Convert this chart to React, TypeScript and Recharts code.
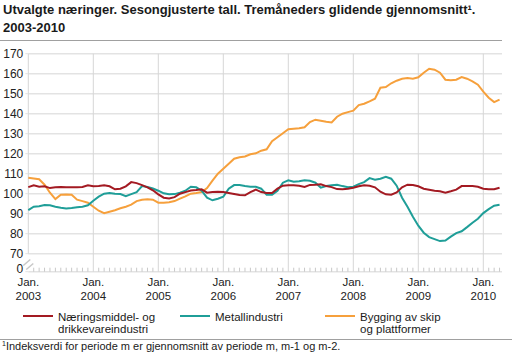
import React from "react";
import {
  LineChart,
  Line,
  XAxis,
  YAxis,
  CartesianGrid,
  ReferenceLine,
  ReferenceDot,
} from "recharts";

// month index 0 = Jan 2003, 87 = Apr 2010
const yearLabels = ["2003", "2004", "2005", "2006", "2007", "2008", "2009", "2010"];

const naering = [
  103.3, 104.2, 103.5, 103.7, 102.8, 103.2, 103.3, 103.2, 103.2, 103.2, 103.4, 104.2,
  103.7, 103.8, 104.2, 103.7, 102.2, 102.5, 103.7, 105.8, 105.3, 104.3, 103.2, 101.7,
  99.7, 98, 97.6, 98.3, 100, 100.8, 101.6, 101.8, 102.2, 100.5, 100.8, 101,
  100.8, 100.3, 99.8, 99.3, 99.2, 100.8, 102, 100.8, 100.3, 100.3, 102.5, 104,
  104.2, 104.2, 104, 103.4, 104.4, 104.5, 104.7, 103.8, 103.3, 102.3, 102.2, 102.5,
  103, 103.7, 104.2, 104, 103.2, 101, 99.7, 99.5, 100.6, 103.2, 104.5, 104.3,
  103.7, 102.5, 102, 101.5, 101.2, 100.5, 101.2, 102, 103.8, 103.8, 103.8, 103.5,
  102.5, 102.2, 102.2, 103,
];

const metall = [
  91.8, 93.5, 93.7, 94.3, 94.2, 93.5, 93, 92.6, 92.8, 93.2, 93.5, 94.2,
  96.5, 98.5, 100, 100.3, 100, 99.8, 98.8, 99.8, 100.8, 103.8, 103.3, 102.6,
  101.5, 100.2, 99.7, 99.8, 100.5, 101.5, 103.5, 103.2, 101.5, 98, 96.7, 97.5,
  98.5, 102.5, 104.3, 104.3, 103.8, 103.5, 103.5, 102.5, 99.5, 99.5, 101.5, 105.5,
  106.7, 106, 106.2, 106.7, 106.5, 105.5, 103, 103.8, 104.2, 104.5, 103.8, 103.2,
  103.5, 104.8, 105.8, 107.8, 107, 107.5, 108.5, 107.5, 104, 98, 93.5, 88.5,
  84, 80.5, 78.3, 77.3, 76.3, 76.6, 78.5, 80.3, 81.2, 83.3, 85.5, 87.5,
  90.3, 92.3, 94, 94.5,
];

const skip = [
  108, 107.6, 107.2, 104.5, 100.5, 97.3, 99.5, 99.6, 99.5, 97, 96.3, 95.5,
  93.5, 91.5, 90.3, 91, 91.7, 92.7, 93.5, 94.5, 96.3, 97, 97.2, 97,
  95.5, 95.5, 95.7, 96.3, 97.5, 98.7, 100, 100.3, 100.8, 102.8, 106.5, 110,
  112.5, 115, 117.5, 118.2, 118.6, 119.7, 120.2, 121.5, 122.2, 126.2, 128.2, 130.2,
  132.2, 132.5, 132.7, 133.2, 135.8, 137, 136.5, 136, 135.6, 138.5, 140, 140.8,
  141.5, 144.3, 145, 146.2, 147.5, 153, 153.3, 155.2, 156.5, 157.5, 157.8, 157.5,
  158.2, 160.5, 162.5, 162, 160.5, 157, 156.7, 157, 158.3, 157.5, 156.2, 154.5,
  151, 148, 145.8, 147,
];

// 61 stands in for the "0" below the axis break
const yTicks = [61, 70, 80, 90, 100, 110, 120, 130, 140, 150, 160, 170];

const data = naering.map((v, i) => ({
  m: i,
  naering: v,
  metall: metall[i],
  skip: skip[i],
}));
const monthTicks = data.map((d) => d.m);
const janTicks = yearLabels.map((_, k) => k * 12);

const RED = "#a31a22";
const TEAL = "#1f9e98";
const ORANGE = "#f6a03c";
const FONT = "Arial, 'Liberation Sans', sans-serif";

function MonthTick(props: any) {
  const { x, y, payload } = props;
  const i = payload.value;
  if (i % 12 !== 0) {
    return <line x1={x} x2={x} y1={y} y2={y - 4} stroke="#c8c8c8" strokeWidth={1} />;
  }
  return (
    <text x={x} y={y + 14.5} textAnchor="middle" fontSize={11.5} fill="#222" fontFamily={FONT}>
      <tspan x={x}>Jan.</tspan>
      <tspan x={x} dy={13.3}>
        {yearLabels[i / 12]}
      </tspan>
    </text>
  );
}

function ValueTick(props: any) {
  const { x, y, payload } = props;
  const v = payload.value;
  const zero = v === 61;
  return (
    <text
      x={x}
      y={zero ? y - 3 : y}
      dy="0.36em"
      textAnchor="end"
      fontSize={12}
      fill="#222"
      fontFamily={FONT}
    >
      {zero ? "0" : v}
    </text>
  );
}

function AxisBreak(props: any) {
  const { cx, cy } = props;
  return (
    <g stroke="#c8c8c8" strokeWidth={1.5}>
      <line x1={cx - 5} y1={cy + 1} x2={cx + 2} y2={cy - 5} />
      <line x1={cx - 2} y1={cy + 5} x2={cx + 5} y2={cy - 1} />
    </g>
  );
}

const legendItems = [
  { color: RED, left: 23, lines: ["Næringsmiddel- og", "drikkevareindustri"] },
  { color: TEAL, left: 180, lines: ["Metallindustri"] },
  { color: ORANGE, left: 325, lines: ["Bygging av skip", "og plattformer"] },
];

export default function App() {
  return (
    <div
      style={{
        position: "absolute",
        left: 0,
        top: 0,
        width: 513,
        height: 353,
        background: "#fff",
        fontFamily: FONT,
        color: "#1a1a1a",
        overflow: "hidden",
      }}
    >
      <div
        style={{
          position: "absolute",
          left: 3,
          top: 1,
          fontSize: 13,
          fontWeight: "bold",
          lineHeight: "18px",
          whiteSpace: "nowrap",
        }}
      >
        Utvalgte næringer. Sesongjusterte tall. Tremåneders glidende gjennomsnitt¹.
        <br />
        2003-2010
      </div>
      <div style={{ position: "absolute", left: 0, top: 40, width: 502, height: 1, background: "#a0a0a0" }} />

      <div style={{ position: "absolute", left: 0, top: 0 }}>
        <LineChart
          width={513}
          height={310}
          data={data}
          margin={{ top: 53.7, right: 11, bottom: 8.3, left: 0 }}
        >
          <CartesianGrid vertical={false} stroke="#e3e3e3" strokeWidth={1.5} />
          <XAxis
            dataKey="m"
            type="number"
            domain={[0, 87.45]}
            ticks={monthTicks}
            interval={0}
            height={30}
            axisLine={false}
            tickLine={false}
            tickSize={0}
            tickMargin={0}
            tick={<MonthTick />}
          />
          <YAxis
            type="number"
            domain={[61, 170]}
            ticks={yTicks}
            interval={0}
            width={28.3}
            axisLine={false}
            tickLine={{ stroke: "#e3e3e3" }}
            tickSize={3}
            tickMargin={2}
            tick={<ValueTick />}
          />
          <ReferenceLine
            segment={[
              { x: 0, y: 70 },
              { x: 0, y: 170 },
            ]}
            stroke="#d6d6d6"
          />
          {janTicks.slice(1).map((t) => (
            <ReferenceLine key={t} x={t} stroke="#d6d6d6" />
          ))}
          <ReferenceDot x={0} y={64.6} r={0} shape={<AxisBreak />} />
          <Line type="linear" dataKey="skip" stroke={ORANGE} strokeWidth={2} dot={false} isAnimationActive={false} />
          <Line type="linear" dataKey="metall" stroke={TEAL} strokeWidth={2} dot={false} isAnimationActive={false} />
          <Line type="linear" dataKey="naering" stroke={RED} strokeWidth={2} dot={false} isAnimationActive={false} />
        </LineChart>
      </div>

      {legendItems.map((item) => (
        <React.Fragment key={item.left}>
          <div
            style={{
              position: "absolute",
              left: item.left,
              top: 314.7,
              width: 30,
              height: 2,
              background: item.color,
            }}
          />
          <div
            style={{
              position: "absolute",
              left: item.left + 35,
              top: 310.5,
              fontSize: 11.5,
              lineHeight: "12px",
              whiteSpace: "nowrap",
            }}
          >
            {item.lines.map((l) => (
              <div key={l}>{l}</div>
            ))}
          </div>
        </React.Fragment>
      ))}

      <div style={{ position: "absolute", left: 0, top: 339, width: 512, height: 1, background: "#a0a0a0" }} />
      <div
        style={{
          position: "absolute",
          left: 2,
          top: 340,
          fontSize: 11,
          lineHeight: "12px",
          whiteSpace: "nowrap",
        }}
      >
        <sup style={{ fontSize: 7, verticalAlign: "top", lineHeight: "8px" }}>1</sup>
        Indeksverdi for periode m er gjennomsnitt av periode m, m-1 og m-2.
      </div>
    </div>
  );
}
